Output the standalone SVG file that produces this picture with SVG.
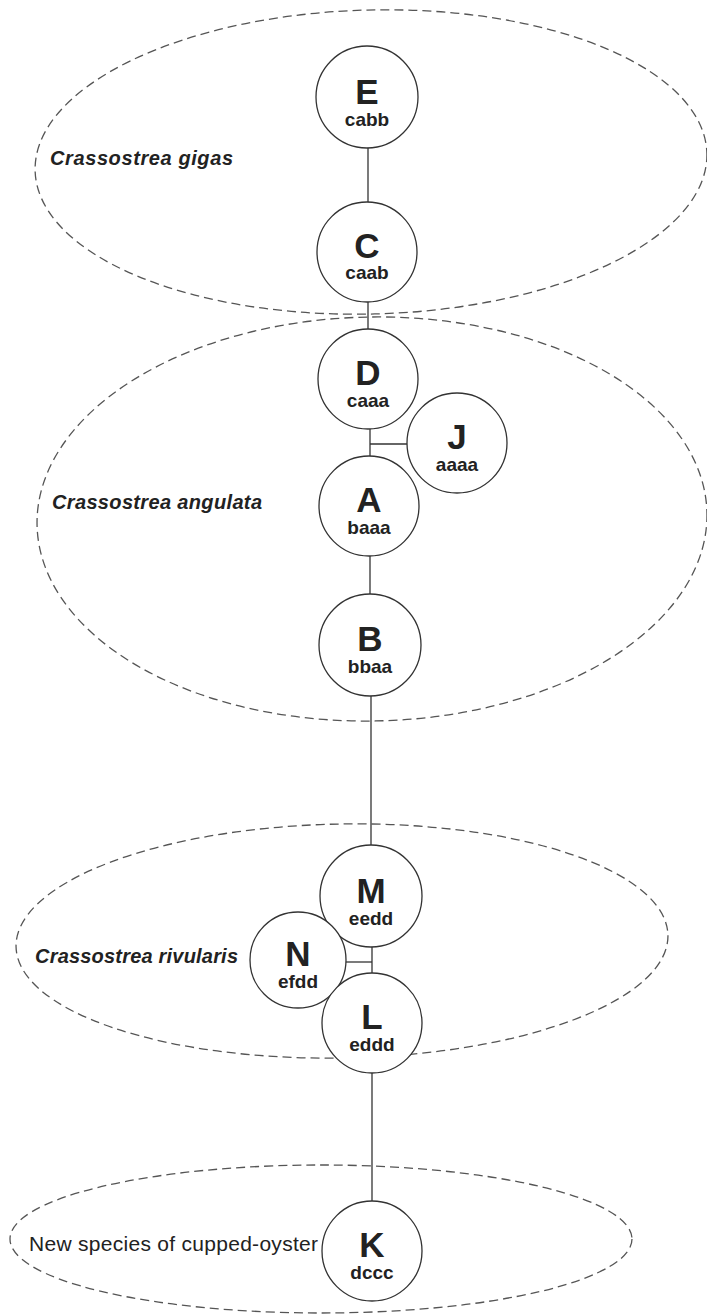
<svg xmlns="http://www.w3.org/2000/svg" width="707" height="1315" viewBox="0 0 707 1315">
<style>
.grp{fill:none;stroke:#555;stroke-width:1.3;stroke-dasharray:9 5}
.node circle{fill:#fff;stroke:#333;stroke-width:1.3}
.lbl{font-family:"Liberation Sans",Arial,sans-serif;font-weight:bold;fill:#222;text-anchor:middle}
.big{font-size:35px}
.sub{font-size:19px}
.sp{font-family:"Liberation Sans",Arial,sans-serif;font-weight:bold;font-style:italic;font-size:20px;fill:#222}
.sp2{font-family:"Liberation Sans",Arial,sans-serif;font-size:21px;fill:#222}
.conn line{stroke:#333;stroke-width:1.3}
</style>
<rect width="707" height="1315" fill="#fff"/>
<g id="groups">
<ellipse class="grp" cx="371" cy="162" rx="336" ry="152" transform="rotate(-1.5 371 162)"/>
<ellipse class="grp" cx="372" cy="519" rx="335" ry="202" transform="rotate(-1 372 519)"/>
<ellipse class="grp" cx="342" cy="941" rx="326" ry="117" transform="rotate(-1 342 941)"/>
<ellipse class="grp" cx="321" cy="1239" rx="311" ry="74"/>
</g>
<g id="species-labels">
<text class="sp" x="50" y="165" textLength="183" lengthAdjust="spacing">Crassostrea gigas</text>
<text class="sp" x="52" y="509" textLength="210" lengthAdjust="spacing">Crassostrea angulata</text>
<text class="sp" x="35" y="963" textLength="203" lengthAdjust="spacing">Crassostrea rivularis</text>
<text class="sp2" x="29" y="1251" textLength="289" lengthAdjust="spacing">New species of cupped-oyster</text>
</g>
<g id="connectors" class="conn">
<line x1="368" y1="148" x2="368" y2="202"/>
<line x1="368" y1="302" x2="368" y2="329"/>
<line x1="370" y1="429" x2="370" y2="457"/>
<line x1="370" y1="444" x2="407" y2="444"/>
<line x1="370" y1="556" x2="370" y2="594"/>
<line x1="371" y1="696" x2="371" y2="845"/>
<line x1="372" y1="947" x2="372" y2="973"/>
<line x1="346" y1="962" x2="372" y2="962"/>
<line x1="372" y1="1073" x2="372" y2="1201"/>
</g>
<g id="node-E" class="node"><circle cx="367" cy="97" r="51"/><text class="lbl big" x="367" y="104">E</text><text class="lbl sub" x="367" y="126">cabb</text></g>
<g id="node-C" class="node"><circle cx="367" cy="252" r="50"/><text class="lbl big" x="367" y="258">C</text><text class="lbl sub" x="367" y="279">caab</text></g>
<g id="node-D" class="node"><circle cx="368" cy="379" r="50"/><text class="lbl big" x="368" y="385">D</text><text class="lbl sub" x="368" y="407">caaa</text></g>
<g id="node-J" class="node"><circle cx="457" cy="443" r="50"/><text class="lbl big" x="457" y="449">J</text><text class="lbl sub" x="457" y="471">aaaa</text></g>
<g id="node-A" class="node"><circle cx="369" cy="506" r="50"/><text class="lbl big" x="369" y="512">A</text><text class="lbl sub" x="369" y="534">baaa</text></g>
<g id="node-B" class="node"><circle cx="370" cy="645" r="51"/><text class="lbl big" x="370" y="651">B</text><text class="lbl sub" x="370" y="673">bbaa</text></g>
<g id="node-M" class="node"><circle cx="371" cy="896" r="51"/><text class="lbl big" x="371" y="903">M</text><text class="lbl sub" x="371" y="925">eedd</text></g>
<g id="node-N" class="node"><circle cx="298" cy="960" r="48"/><text class="lbl big" x="298" y="966">N</text><text class="lbl sub" x="298" y="988">efdd</text></g>
<g id="node-L" class="node"><circle cx="372" cy="1023" r="50"/><text class="lbl big" x="372" y="1029">L</text><text class="lbl sub" x="372" y="1051">eddd</text></g>
<g id="node-K" class="node"><circle cx="372" cy="1251" r="50"/><text class="lbl big" x="372" y="1257">K</text><text class="lbl sub" x="372" y="1279">dccc</text></g>
</svg>
